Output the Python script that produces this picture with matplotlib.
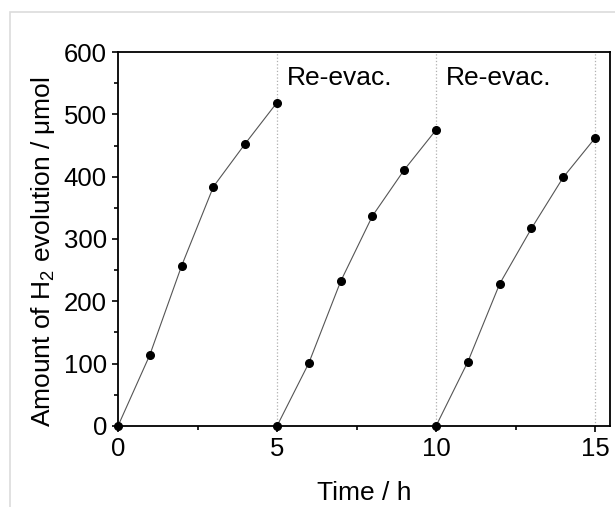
import matplotlib
matplotlib.use("Agg")
import matplotlib.pyplot as plt
from matplotlib.patches import Rectangle
from matplotlib.ticker import MultipleLocator

plt.rcParams['font.family'] = ['Liberation Sans', 'DejaVu Sans']
plt.rcParams['mathtext.fontset'] = 'custom'
plt.rcParams['mathtext.rm'] = 'Liberation Sans'
plt.rcParams['mathtext.it'] = 'Liberation Sans'
plt.rcParams['mathtext.default'] = 'regular'

# three evacuation cycles
cycle1_t = [0, 1, 2, 3, 4, 5]
cycle1_h2 = [0, 114, 257, 384, 453, 519]
cycle2_t = [5, 6, 7, 8, 9, 10]
cycle2_h2 = [0, 101, 232, 337, 411, 475]
cycle3_t = [10, 11, 12, 13, 14, 15]
cycle3_h2 = [0, 103, 228, 317, 399, 462]

reevac_times = [5, 10, 15]
label_times = [5, 10]

fig = plt.figure(figsize=(6.15, 5.07), dpi=100)
ax = fig.add_axes([0.1919, 0.1598, 0.8, 0.7376])

# light frame round the figure
fig.patches.append(Rectangle((10 / 615, -0.1), 1.2, 1 - 12 / 507 + 0.1,
                             transform=fig.transFigure, fill=False,
                             edgecolor='#dcdcdc', linewidth=1.2))

for t in reevac_times:
    ax.axvline(t, color='#b0b0b0', linestyle=':', linewidth=0.9, zorder=1)

for t, h in [(cycle1_t, cycle1_h2), (cycle2_t, cycle2_h2), (cycle3_t, cycle3_h2)]:
    ax.plot(t, h, color='#555555', linewidth=0.8, marker='o', markersize=5.5,
            markerfacecolor='black', markeredgecolor='black', zorder=3, clip_on=False)

for t in label_times:
    ax.text(t + 0.3, 547, 'Re-evac.', fontsize=19, va='baseline', ha='left')

ax.set_xlim(0, 15.47)
ax.set_ylim(0, 600)
ax.xaxis.set_major_locator(MultipleLocator(5))
ax.xaxis.set_minor_locator(MultipleLocator(2.5))
ax.yaxis.set_major_locator(MultipleLocator(100))
ax.yaxis.set_minor_locator(MultipleLocator(50))
ax.tick_params(which='both', direction='out', width=1.2, labelsize=18.5,
               top=False, right=False)
ax.tick_params(which='major', length=4.5, pad=3.5)
ax.tick_params(which='minor', length=3)
for s in ax.spines.values():
    s.set_linewidth(1.3)

ax.set_xlabel('Time / h', fontsize=19, labelpad=14)
ax.set_ylabel('Amount of H$_2$ evolution / μmol', fontsize=19)
ax.yaxis.set_label_coords(-0.125, 0.465)

fig.savefig('out.png', dpi=100)
